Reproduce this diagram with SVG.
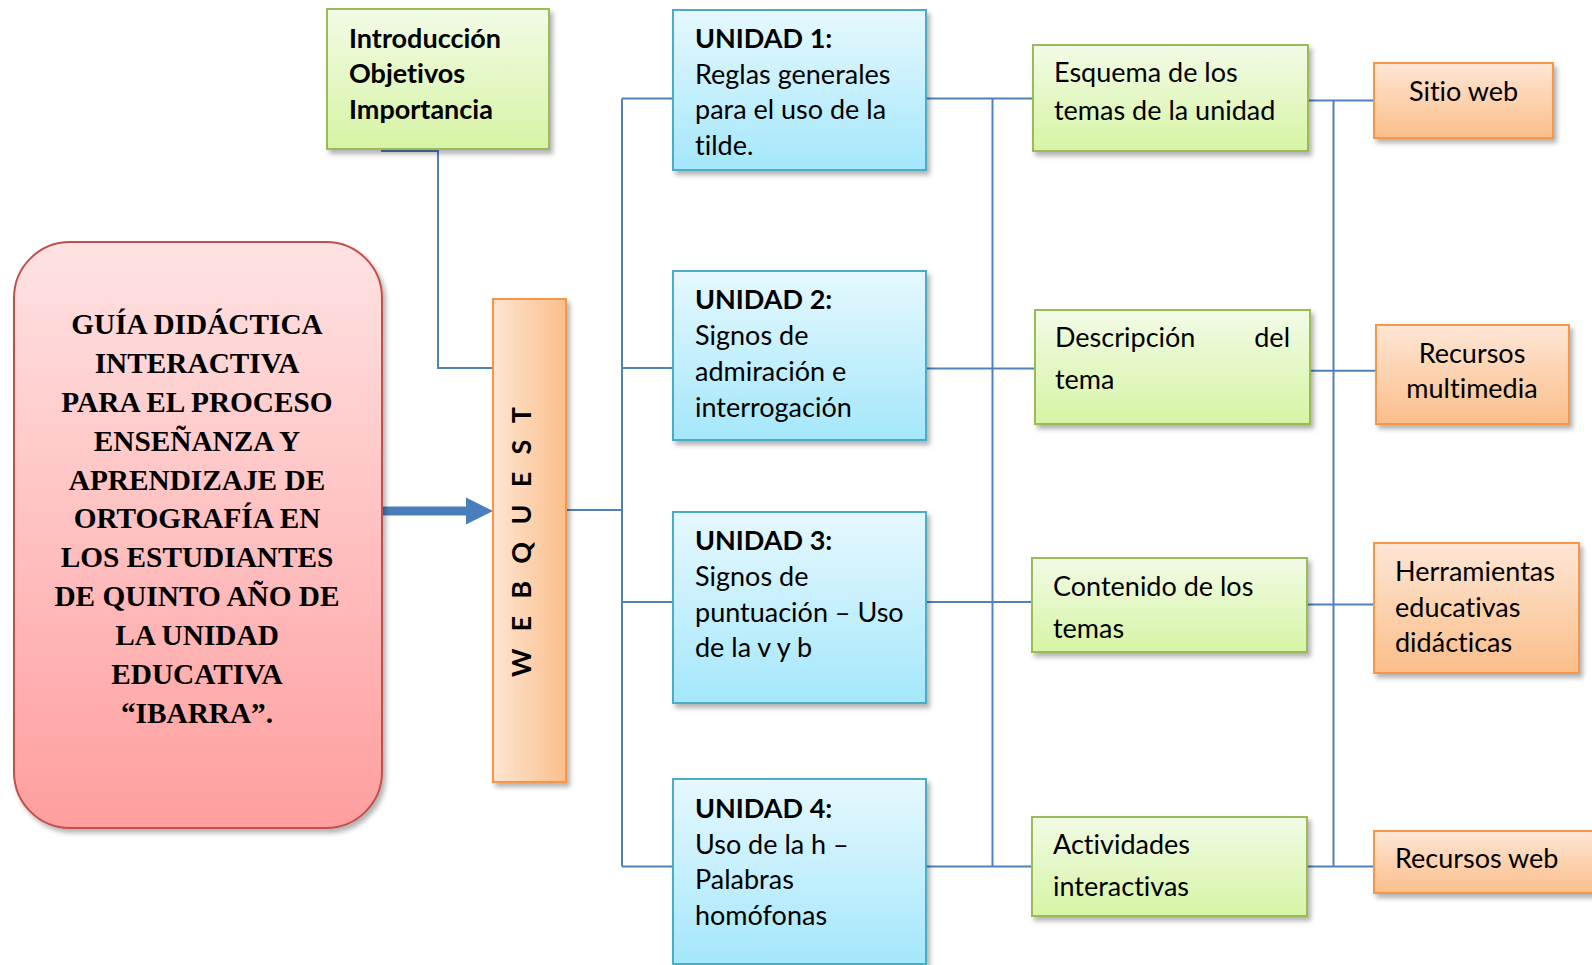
<svg xmlns="http://www.w3.org/2000/svg" width="1592" height="965" viewBox="0 0 1592 965">
<defs>
<linearGradient id="gGreen" x1="0" y1="0" x2="0" y2="1"><stop offset="0" stop-color="#f2fbe6"/><stop offset="1" stop-color="#d6f4a4"/></linearGradient>
<linearGradient id="gBlue" x1="0" y1="0" x2="0" y2="1"><stop offset="0" stop-color="#e6f8fe"/><stop offset="1" stop-color="#a4e7fb"/></linearGradient>
<linearGradient id="gOrange" x1="0" y1="0" x2="0" y2="1"><stop offset="0" stop-color="#fde6d5"/><stop offset="1" stop-color="#fbbe8a"/></linearGradient>
<linearGradient id="gOrangeH" x1="0" y1="0" x2="1" y2="0"><stop offset="0" stop-color="#fde5d2"/><stop offset="1" stop-color="#fbbf8b"/></linearGradient>
<linearGradient id="gRed" x1="0" y1="0" x2="0" y2="1"><stop offset="0" stop-color="#ffe2e2"/><stop offset="1" stop-color="#ff9e9e"/></linearGradient>
<filter id="sh" x="-10%" y="-10%" width="125%" height="125%"><feDropShadow dx="3" dy="4" stdDeviation="2.5" flood-color="#000" flood-opacity="0.3"/></filter>
</defs>
<style>
.green{fill:url(#gGreen);stroke:#9bbb59;stroke-width:2;filter:url(#sh)}
.blue{fill:url(#gBlue);stroke:#4bacc6;stroke-width:2;filter:url(#sh)}
.orange{fill:url(#gOrange);stroke:#f79646;stroke-width:2;filter:url(#sh)}
.wq{fill:url(#gOrangeH);stroke:#f79646;stroke-width:2;filter:url(#sh)}
.red{fill:url(#gRed);stroke:#c0504d;stroke-width:2;filter:url(#sh)}
.t{font-family:Lato,"Open Sans","Liberation Sans",sans-serif;font-size:27px;fill:#000;font-variant-ligatures:none;font-feature-settings:"liga" 0}
.b{font-weight:bold}
.serif{font-family:"Liberation Serif","Times New Roman",serif;font-size:29.3px;font-weight:bold;fill:#000;text-anchor:middle}
.c{text-anchor:middle}
.e{text-anchor:end}
.conn{fill:none;stroke:#4f81bd;stroke-width:2}
</style>

<g id="connectors">
<path class="conn" d="M381,151 H438 V368 H494"/>
<path class="conn" d="M566,510 H622"/>
<path class="conn" d="M622,98.5 V866.5"/>
<path class="conn" d="M622,98.5 H673 M622,368 H673 M622,602 H673 M622,866.5 H673"/>
<path class="conn" d="M926,98.5 H1033 M926,368.5 H1035 M926,602 H1032 M926,866.5 H1032"/>
<path class="conn" d="M992.5,98.5 V866.5"/>
<path class="conn" d="M1308,100.6 H1374 M1310,370.8 H1376 M1307,604.4 H1374 M1307,866.5 H1374"/>
<path class="conn" d="M1333.5,100.6 V866.5"/>
<polygon points="382,506.5 466,506.5 466,497.5 493,511 466,524.5 466,515.5 382,515.5" fill="#4a7ebb"/>
</g>

<g id="guia">
<rect class="red" x="14" y="242" width="368" height="586" rx="56" ry="56"/>
<text class="serif" x="197" y="334">GUÍA DIDÁCTICA</text>
<text class="serif" x="197" y="373">INTERACTIVA</text>
<text class="serif" x="197" y="412">PARA EL PROCESO</text>
<text class="serif" x="197" y="451">ENSEÑANZA Y</text>
<text class="serif" x="197" y="490">APRENDIZAJE DE</text>
<text class="serif" x="197" y="528">ORTOGRAFÍA EN</text>
<text class="serif" x="197" y="567">LOS ESTUDIANTES</text>
<text class="serif" x="197" y="606">DE QUINTO AÑO DE</text>
<text class="serif" x="197" y="645">LA UNIDAD</text>
<text class="serif" x="197" y="684">EDUCATIVA</text>
<text class="serif" x="197" y="723">“IBARRA”.</text>
</g>

<g id="intro">
<rect class="green" x="327" y="9" width="222" height="140"/>
<text class="t b" x="349" y="48">Introducción</text>
<text class="t b" x="349" y="83">Objetivos</text>
<text class="t b" x="349" y="119">Importancia</text>
</g>

<g id="webquest">
<rect class="wq" x="493" y="299" width="73" height="483"/>
<text class="t b" transform="translate(531,677) rotate(-90)" x="0" y="0" font-size="25" textLength="270" lengthAdjust="spacing">W E B Q U E S T</text>
</g>

<g id="unidad1">
<rect class="blue" x="673" y="10" width="253" height="160"/>
<text class="t b" x="695" y="48">UNIDAD 1:</text>
<text class="t" x="695" y="83.5">Reglas generales</text>
<text class="t" x="695" y="119">para el uso de la</text>
<text class="t" x="695" y="155">tilde.</text>
</g>

<g id="unidad2">
<rect class="blue" x="673" y="271" width="253" height="169"/>
<text class="t b" x="695" y="309">UNIDAD 2:</text>
<text class="t" x="695" y="345">Signos de</text>
<text class="t" x="695" y="381">admiración e</text>
<text class="t" x="695" y="416.5">interrogación</text>
</g>

<g id="unidad3">
<rect class="blue" x="673" y="512" width="253" height="191"/>
<text class="t b" x="695" y="550">UNIDAD 3:</text>
<text class="t" x="695" y="586">Signos de</text>
<text class="t" x="695" y="621.5">puntuación – Uso</text>
<text class="t" x="695" y="657">de la v y b</text>
</g>

<g id="unidad4">
<rect class="blue" x="673" y="779" width="253" height="185"/>
<text class="t b" x="695" y="818">UNIDAD 4:</text>
<text class="t" x="695" y="853.5">Uso de la h –</text>
<text class="t" x="695" y="889">Palabras</text>
<text class="t" x="695" y="925">homófonas</text>
</g>

<g id="esquema">
<rect class="green" x="1033" y="45" width="275" height="106"/>
<text class="t" x="1054" y="82">Esquema de los</text>
<text class="t" x="1054" y="119.5">temas de la unidad</text>
</g>

<g id="descripcion">
<rect class="green" x="1035" y="310" width="275" height="114"/>
<text class="t" x="1055" y="347">Descripción</text>
<text class="t e" x="1290" y="347">del</text>
<text class="t" x="1055" y="389">tema</text>
</g>

<g id="contenido">
<rect class="green" x="1032" y="558" width="275" height="94"/>
<text class="t" x="1053" y="596">Contenido de los</text>
<text class="t" x="1053" y="638">temas</text>
</g>

<g id="actividades">
<rect class="green" x="1032" y="817" width="275" height="99"/>
<text class="t" x="1053" y="854">Actividades</text>
<text class="t" x="1053" y="896">interactivas</text>
</g>

<g id="sitio">
<rect class="orange" x="1374" y="63" width="179" height="75"/>
<text class="t c" x="1463.5" y="100.5">Sitio web</text>
</g>

<g id="multimedia">
<rect class="orange" x="1376" y="325" width="193" height="99"/>
<text class="t c" x="1472" y="362.5">Recursos</text>
<text class="t c" x="1472" y="398">multimedia</text>
</g>

<g id="herramientas">
<rect class="orange" x="1374" y="543" width="205" height="130"/>
<text class="t" x="1395" y="581">Herramientas</text>
<text class="t" x="1395" y="616.5">educativas</text>
<text class="t" x="1395" y="651.5">didácticas</text>
</g>

<g id="recursosweb">
<rect class="orange" x="1374" y="831" width="222" height="62"/>
<text class="t" x="1395" y="868">Recursos web</text>
</g>
</svg>
